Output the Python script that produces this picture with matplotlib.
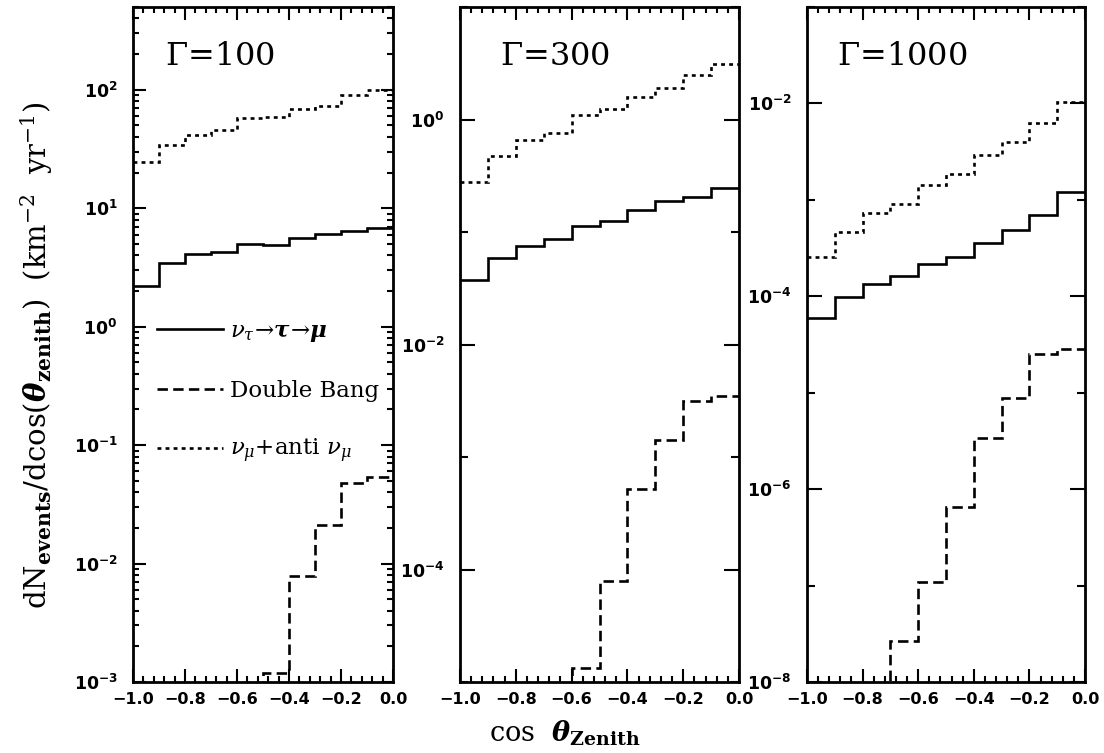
import numpy as np
import matplotlib
matplotlib.use('Agg')
import matplotlib.pyplot as plt
from matplotlib.ticker import FixedLocator, NullFormatter, FuncFormatter, AutoMinorLocator, LogLocator

plt.rcParams['mathtext.fontset'] = 'dejavusans'
plt.rcParams['lines.scale_dashes'] = False
plt.rcParams['axes.unicode_minus'] = True

# ---------------- data ----------------
edges = np.round(np.linspace(-1.0, 0.0, 11), 2)   # cos(theta_zenith) bin edges
gammas = [100, 300, 1000]

nutau_100 = [2.22, 3.48, 4.12, 4.28, 5.0, 4.86, 5.63, 6.01, 6.45, 6.84]
numu_100 = [24.8, 34.3, 41.4, 45.5, 57.4, 58.6, 69.2, 73.0, 90.2, 100.0]
db_100 = [np.nan, np.nan, np.nan, np.nan, 2e-4, 1.2e-3, 7.8e-3, 0.0213, 0.048, 0.054]

nutau_300 = [0.0377, 0.0586, 0.075, 0.086, 0.112, 0.125, 0.158, 0.188, 0.204, 0.247]
numu_300 = [0.277, 0.472, 0.66, 0.76, 1.10, 1.23, 1.59, 1.91, 2.47, 3.12]
db_300 = [np.nan, np.nan, np.nan, 2e-6, 1.32e-5, 7.9e-5, 5.2e-4, 1.41e-3, 3.15e-3, 3.47e-3]

nutau_1000 = [5.9e-5, 9.8e-5, 1.33e-4, 1.62e-4, 2.17e-4, 2.57e-4, 3.57e-4, 4.9e-4, 6.97e-4, 1.2e-3]
numu_1000 = [2.57e-4, 4.59e-4, 7.3e-4, 9.1e-4, 1.41e-3, 1.87e-3, 2.93e-3, 3.96e-3, 6.2e-3, 1.04e-2]
db_1000 = [np.nan, np.nan, 3e-9, 2.65e-8, 1.08e-7, 6.5e-7, 3.36e-6, 8.9e-6, 2.53e-5, 2.85e-5]

ylims = [(1e-3, 500), (1e-5, 10), (1e-8, 0.1)]
label_decades = [[-3, -2, -1, 0, 1, 2], [-4, -2, 0], [-8, -6, -4, -2]]
other_decades = [[], [-5, -3, -1, 1], [-7, -5, -3, -1]]
xticks = [-1.0, -0.8, -0.6, -0.4, -0.2, 0.0]

legend_labels = [r'$\boldsymbol{\nu_{\tau}}\!\rightarrow\!\boldsymbol{\tau}\!\rightarrow\!\boldsymbol{\mu}$',
                 'Double Bang',
                 r'$\boldsymbol{\nu_{\mu}}$+anti $\boldsymbol{\nu_{\mu}}$']

series = [(nutau_100, db_100, numu_100), (nutau_300, db_300, numu_300), (nutau_1000, db_1000, numu_1000)]

# ---------------- figure ----------------
fig = plt.figure(figsize=(11.04, 7.53), dpi=100)
W, H = 1104.0, 753.0
boxes = [(133, 393), (460, 739), (807, 1085)]
top_px, bot_px = 7, 682
title_x = [0.123, 0.143, 0.108]

dash_style = (0, (7.5, 3.8))
dot_style = (0, (2.8, 3.0))

for i, (x0, x1) in enumerate(boxes):
    ax = fig.add_axes([x0 / W, (H - bot_px) / H, (x1 - x0) / W, (bot_px - top_px) / H])
    nt, db, nm = series[i]
    ax.stairs(nt, edges, baseline=None, color='black', lw=1.9, ls='-', label=legend_labels[0])
    ax.stairs(db, edges, baseline=None, color='black', lw=1.9, ls=dash_style, label=legend_labels[1])
    ax.stairs(nm, edges, baseline=None, color='black', lw=1.9, ls=dot_style, label=legend_labels[2])
    ax.set_yscale('log')
    ax.set_ylim(*ylims[i])
    ax.set_xlim(-1.0, 0.0)

    ax.xaxis.set_major_locator(FixedLocator(xticks))
    ax.xaxis.set_minor_locator(AutoMinorLocator(5))
    ax.xaxis.set_major_formatter(FuncFormatter(lambda v, p: ('%.1f' % v).replace('-', '\u2212')))

    ax.yaxis.set_major_locator(FixedLocator([10.0 ** d for d in label_decades[i]]))
    if i == 0:
        ax.yaxis.set_minor_locator(LogLocator(base=10, subs=np.arange(2, 10)))
    else:
        ax.yaxis.set_minor_locator(FixedLocator([10.0 ** d for d in other_decades[i]]))
    ax.yaxis.set_minor_formatter(NullFormatter())
    ax.yaxis.set_major_formatter(FuncFormatter(lambda v, p: r'$\mathbf{10^{%d}}$' % int(round(np.log10(v)))))

    ax.tick_params(which='both', direction='in', top=True, right=True, width=1.5, colors='black')
    ax.tick_params(axis='x', which='major', length=9.5, pad=7, labelsize=11.5)
    ax.tick_params(axis='x', which='minor', length=4)
    ylen = 9.0 if i == 0 else 11.0
    ax.tick_params(axis='y', which='major', length=ylen, pad=11, labelsize=12.5)
    ax.tick_params(axis='y', which='minor', length=4.5 if i == 0 else 5.5)
    for lbl in ax.get_xticklabels() + ax.get_yticklabels():
        lbl.set_fontweight('bold')
    for sp in ax.spines.values():
        sp.set_linewidth(2.0)

    ax.text(title_x[i], 0.914, r'$\Gamma$=%d' % gammas[i], transform=ax.transAxes,
            fontsize=23, family='DejaVu Serif', math_fontfamily='dejavuserif',
            ha='left', va='baseline')

    if i == 0:
        leg = ax.legend(loc='upper left', bbox_to_anchor=(0.092, 0.536), frameon=False,
                        handlelength=2.9, handletextpad=0.3, labelspacing=1.55,
                        borderaxespad=0.0, borderpad=0.0,
                        prop={'family': 'DejaVu Serif', 'size': 16.5})
        for t in leg.get_texts():
            t.set_math_fontfamily('dejavuserif')

fig.text(37 / W, (H - 355) / H,
         r'$\mathrm{dN}_{\mathbf{events}}/\mathrm{dcos}(\boldsymbol{\theta}_{\mathbf{zenith}})\ \ (\mathrm{km}^{-2}\ \ \mathrm{yr}^{-1})$',
         rotation=90, ha='center', va='center', fontsize=21, math_fontfamily='dejavuserif')
fig.text(565 / W, (H - 733) / H, r'$\mathrm{cos}\ \ \boldsymbol{\theta}_{\mathbf{Zenith}}$',
         ha='center', va='center', fontsize=19.5, math_fontfamily='dejavuserif')

fig.savefig('out.png', dpi=100)
